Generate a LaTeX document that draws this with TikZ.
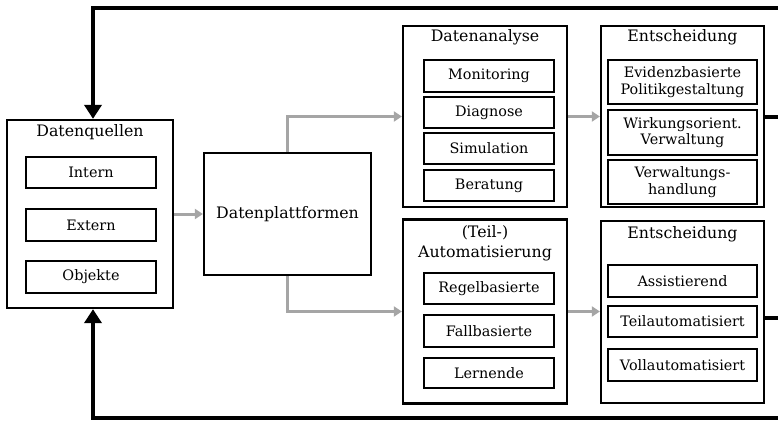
\documentclass[tikz,border=0pt]{standalone}
\usepackage{fontspec}
\setmainfont{DejaVu Serif}
\usetikzlibrary{arrows.meta}
\definecolor{flowgray}{RGB}{165,165,165}
\tikzset{
  outerbox/.style={draw=black, line width=2.3pt, inner sep=0pt},
  innerbox/.style={draw=black, line width=1.3pt, inner sep=0pt, align=center,
    font=\fontsize{14.4}{16.5}\selectfont},
  titletext/.style={inner sep=0pt, align=center, font=\fontsize{15.8}{20}\selectfont},
  grayflow/.style={draw=flowgray, line width=3pt, -{Triangle[length=8pt,width=10pt]}},
  feedback/.style={draw=black, line width=4pt, -{Triangle[length=14pt,width=17pt]}},
  stub/.style={draw=black, line width=4pt}
}
\begin{document}
\begin{tikzpicture}[x=1pt,y=-1pt]
\useasboundingbox (0,0) rectangle (778,424);
% outer boxes
\node[outerbox, minimum width=166pt, minimum height=188pt] (dq) at (90,214) {};
\node[outerbox, minimum width=167pt, minimum height=122pt, titletext] (dp) at (287.5,214) {Datenplattformen};
\node[outerbox, minimum width=164pt, minimum height=181pt] (da) at (485,116.5) {};
\node[outerbox, minimum width=163pt, minimum height=181pt] (ent1) at (682.5,116.5) {};
\node[outerbox, minimum width=164pt, minimum height=184pt] (au) at (485,311.5) {};
\node[outerbox, minimum width=163pt, minimum height=182pt] (ent2) at (682.5,312) {};
% titles
\node[titletext] (tdq) at (90,132) {Datenquellen};
\node[titletext] (tda) at (485,37) {Datenanalyse};
\node[titletext] (te1) at (682.5,37) {Entscheidung};
\node[titletext] (tau) at (485,243) {(Teil-)\\Automatisierung};
\node[titletext] (te2) at (682.5,234) {Entscheidung};
% inner boxes Datenquellen
\node[innerbox, minimum width=130pt, minimum height=31pt] (dq1) at (91,172.5) {Intern};
\node[innerbox, minimum width=130pt, minimum height=32pt] (dq2) at (91,225) {Extern};
\node[innerbox, minimum width=130pt, minimum height=32pt] (dq3) at (91,277) {Objekte};
% Datenanalyse
\node[innerbox, minimum width=130pt, minimum height=32pt] (da1) at (489,76) {Monitoring};
\node[innerbox, minimum width=130pt, minimum height=31pt] (da2) at (489,112.5) {Diagnose};
\node[innerbox, minimum width=130pt, minimum height=31pt] (da3) at (489,148.5) {Simulation};
\node[innerbox, minimum width=130pt, minimum height=31pt] (da4) at (489,185.5) {Beratung};
% Entscheidung 1
\node[innerbox, minimum width=149pt, minimum height=44pt] (e1a) at (682.5,82) {Evidenzbasierte\\Politikgestaltung};
\node[innerbox, minimum width=149pt, minimum height=45pt] (e1b) at (682.5,132.5) {Wirkungsorient.\\Verwaltung};
\node[innerbox, minimum width=149pt, minimum height=44pt] (e1c) at (682.5,182) {Verwaltungs-\\handlung};
% Automatisierung
\node[innerbox, minimum width=130pt, minimum height=31pt] (au1) at (489,288.5) {Regelbasierte};
\node[innerbox, minimum width=130pt, minimum height=32pt] (au2) at (489,331) {Fallbasierte};
\node[innerbox, minimum width=130pt, minimum height=30pt] (au3) at (489,373) {Lernende};
% Entscheidung 2
\node[innerbox, minimum width=149pt, minimum height=32pt] (e2a) at (682.5,281) {Assistierend};
\node[innerbox, minimum width=149pt, minimum height=31pt] (e2b) at (682.5,321.5) {Teilautomatisiert};
\node[innerbox, minimum width=149pt, minimum height=32pt] (e2c) at (682.5,365) {Vollautomatisiert};
% gray flows
\draw[grayflow] (dq.east) -- (dp.west);
\draw[grayflow] (dp.north) |- (da.west);
\draw[grayflow] (dp.south) |- (au.west);
\draw[grayflow] (da.east) -- (da.east -| ent1.west);
\draw[grayflow] (au.east) -- (au.east -| ent2.west);
% feedback lines
\coordinate (ftr) at (780,8);
\coordinate (ftl) at (93,8);
\coordinate (fbr) at (780,418);
\coordinate (fbl) at (93,418);
\coordinate (s1) at (780,117);
\coordinate (s2) at (780,318);
\draw[feedback] (ftr) -- (ftl) -- (ftl |- dq.north);
\draw[feedback] (fbr) -- (fbl) -- (fbl |- dq.south);
\draw[stub] (ent1.east) -- (s1 |- ent1.east);
\draw[stub] (ent2.east |- s2) -- (s2);
\end{tikzpicture}
\end{document}
